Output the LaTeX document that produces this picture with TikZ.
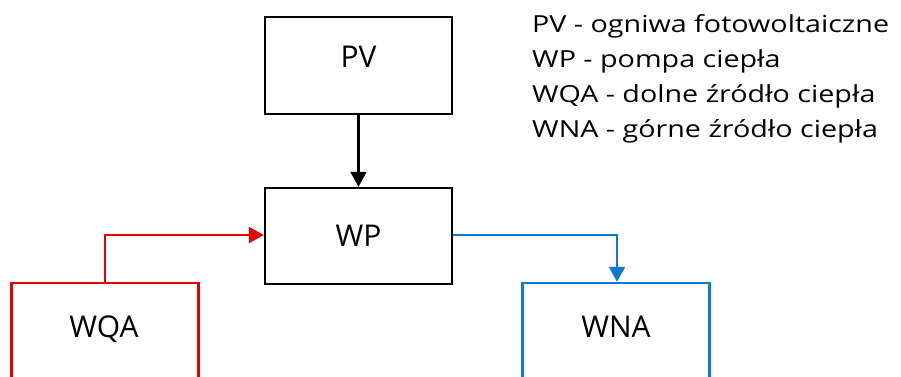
\documentclass[tikz,border=0pt]{standalone}
\usepackage{fontspec}
\setmainfont{Open Sans}
\newfontfamily\legfont[FakeStretch=1.22]{Open Sans}
\usetikzlibrary{arrows.meta}
\definecolor{wqared}{HTML}{E60000}
\definecolor{wnablue}{HTML}{0A7AD6}
\tikzset{
  box/.style={draw, line width=2.4pt, minimum width=187pt, inner sep=0pt},
  lbl/.style={anchor=base, font=\fontsize{30}{30}\selectfont, inner sep=0pt},
  legend/.style={anchor=base west, font=\legfont\fontsize{23.5}{23.5}\selectfont, inner sep=0pt},
  conn/.style={line width=2.2pt, -{Triangle[width=16pt,length=15pt]}},
}
\begin{document}
\begin{tikzpicture}[x=1pt,y=-1pt]
\useasboundingbox (0,0) rectangle (901,376);
\clip (0,0) rectangle (901,376);
% boxes
\node[box, minimum height=97pt] (pv) at (358.5,65.5) {};
\node[box, minimum height=96pt] (wp) at (358.5,236) {};
\node[box, draw=wqared, minimum height=120pt] (wqa) at (105,343) {};
\node[box, draw=wnablue, minimum height=120pt] (wna) at (616,343) {};
% labels
\node[lbl] (pvl) at (358.5,67) {PV};
\node[lbl] (wpl) at (358.5,246) {WP};
\node[lbl] (wqal) at (104,337) {WQA};
\node[lbl] (wnal) at (616,337) {WNA};
% connectors
\draw[conn] (pv.south) -- (wp.north);
\coordinate (wqaup) at (105,235);
\coordinate (wnaturn) at (617,235);
\draw[conn, color=wqared] (wqa.north) -- (wqaup) -- (wqaup -| wp.west);
\draw[conn, color=wnablue] (wnaturn -| wp.east) -- (wnaturn) -- (wnaturn |- wna.north);
% legend
\node[legend] (l1) at (532,32) {PV - ogniwa fotowoltaiczne};
\node[legend] (l2) at (532,67) {WP - pompa ciepła};
\node[legend] (l3) at (532,102) {WQA - dolne źródło ciepła};
\node[legend] (l4) at (532,137) {WNA - górne źródło ciepła};
\end{tikzpicture}
\end{document}
